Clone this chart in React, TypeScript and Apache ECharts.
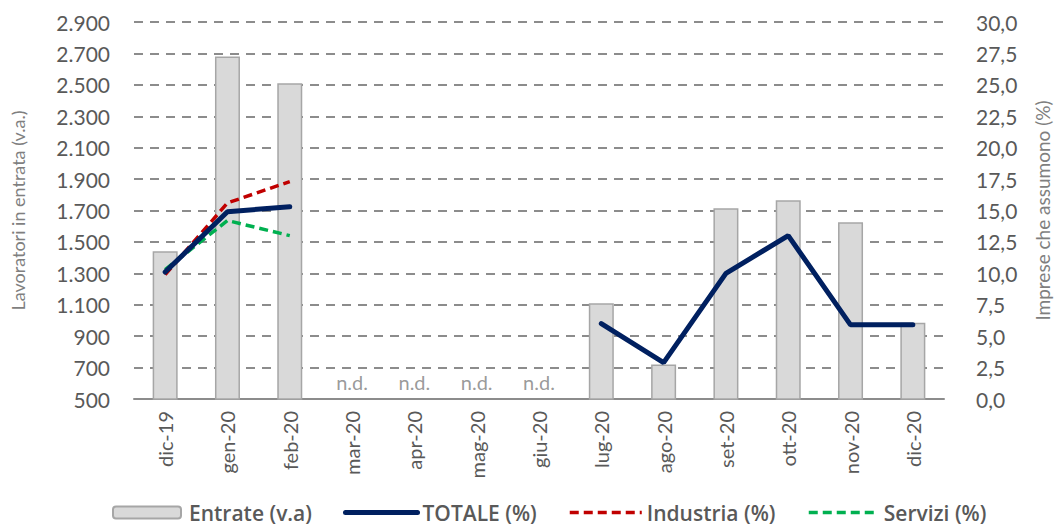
import React, { useEffect, useRef } from "react";
import * as echarts from "echarts";

const categories = ["dic-19", "gen-20", "feb-20", "mar-20", "apr-20", "mag-20", "giu-20", "lug-20", "ago-20", "set-20", "ott-20", "nov-20", "dic-20"];
const entrate = [1440, 2680, 2510, null, null, null, null, 1110, 720, 1715, 1765, 1625, 985];
const totale = [10.1, 14.9, 15.3, null, null, null, null, 6.0, 2.9, 10.0, 13.0, 5.9, 5.9];
const industria = [9.9, 15.6, 17.3, null, null, null, null, null, null, null, null, null, null];
const servizi = [10.3, 14.2, 13.0, null, null, null, null, null, null, null, null, null, null];
const ndMarks = [null, null, null, 500, 500, 500, 500, null, null, null, null, null, null];

const FONT = "Lato";
const TXT = "#595959";

function fmtThousands(v: number): string {
  const s = String(Math.round(v));
  return s.replace(/\B(?=(\d{3})+(?!\d))/g, ".");
}

export default function App() {
  const ref = useRef<HTMLDivElement>(null);
  useEffect(() => {
    if (!ref.current) return;
    const chart = echarts.init(ref.current, null, { renderer: "svg" });
    const legendText = { color: TXT, fontFamily: "Open Sans", fontSize: 21, fontWeight: 600 as const };
    const legendBase = { top: 502, padding: 0, itemWidth: 72, itemHeight: 12, itemStyle: { opacity: 0 }, textStyle: legendText };
    chart.setOption({
      animation: false,
      textStyle: { fontFamily: FONT },
      grid: { left: 134, right: 102, top: 22, bottom: 127, containLabel: false },
      legend: [
        { ...legendBase, data: ["Entrate (v.a)"], left: 112, itemWidth: 68, itemStyle: {}, textStyle: { ...legendText, padding: [0, 0, 0, 3] } },
        { ...legendBase, data: ["TOTALE (%)"], left: 343, lineStyle: { width: 5 } },
        { ...legendBase, data: ["Industria (%)"], left: 568, lineStyle: { width: 3.5 } },
        { ...legendBase, data: ["Servizi (%)"], left: 807, itemWidth: 70, lineStyle: { width: 3.5 } },
      ],
      xAxis: {
        type: "category",
        data: categories,
        boundaryGap: true,
        axisLine: { show: true, lineStyle: { color: "#8c8c8c", width: 2 } },
        axisTick: { show: false },
        axisLabel: { rotate: 90, color: TXT, fontFamily: FONT, fontSize: 20, margin: 12, interval: 0 },
      },
      yAxis: [
        {
          type: "value",
          min: 500,
          max: 2900,
          interval: 200,
          name: "Lavoratori in entrata (v.a.)",
          nameLocation: "middle",
          nameGap: 107,
          nameRotate: 90,
          nameTextStyle: { color: "#7f7f7f", fontFamily: FONT, fontSize: 18 },
          axisLine: { show: false },
          axisTick: { show: false },
          axisLabel: { color: TXT, fontFamily: FONT, fontSize: 21, margin: 24, formatter: (v: number) => fmtThousands(v) },
          splitLine: { show: true, lineStyle: { color: "#8c8c8c", width: 2, type: [9, 7] } },
        },
        {
          type: "value",
          min: 0,
          max: 30,
          interval: 2.5,
          position: "right",
          name: "Imprese che assumono (%)",
          nameLocation: "middle",
          nameGap: 89,
          nameRotate: 90,
          nameTextStyle: { color: "#7f7f7f", fontFamily: FONT, fontSize: 19 },
          axisLine: { show: false },
          axisTick: { show: false },
          axisLabel: { color: TXT, fontFamily: FONT, fontSize: 21, margin: 32, formatter: (v: number) => v.toFixed(1).replace(".", ",") },
          splitLine: { show: false },
        },
      ],
      series: [
        {
          name: "Entrate (v.a)",
          type: "bar",
          yAxisIndex: 0,
          data: entrate,
          barWidth: 25,
          itemStyle: { color: "#d9d9d9", borderColor: "#a6a6a6", borderWidth: 1.5 },
          z: 2,
        },
        {
          name: "TOTALE (%)",
          type: "line",
          yAxisIndex: 1,
          data: totale,
          symbol: "none",
          connectNulls: false,
          lineStyle: { color: "#002060", width: 5, cap: "round" },
          itemStyle: { color: "#002060" },
          z: 5,
        },
        {
          name: "Industria (%)",
          type: "line",
          yAxisIndex: 1,
          data: industria,
          symbol: "none",
          lineStyle: { color: "#c00000", width: 3.5, type: [9, 5] },
          itemStyle: { color: "#c00000" },
          z: 4,
        },
        {
          name: "Servizi (%)",
          type: "line",
          yAxisIndex: 1,
          data: servizi,
          symbol: "none",
          lineStyle: { color: "#00b050", width: 3.5, type: [9, 5] },
          itemStyle: { color: "#00b050" },
          z: 4,
        },
        {
          name: "n.d.",
          type: "scatter",
          yAxisIndex: 0,
          data: ndMarks,
          symbolSize: 0,
          silent: true,
          label: {
            show: true,
            position: "top",
            distance: 7,
            formatter: "n.d.",
            color: "#7f7f7f",
            fontFamily: FONT,
            fontSize: 20,
          },
          z: 6,
        },
      ],
    });
    return () => chart.dispose();
  }, []);
  return <div ref={ref} style={{ width: 1060, height: 526, position: "absolute", left: 0, top: 0, background: "#fff" }} />;
}
